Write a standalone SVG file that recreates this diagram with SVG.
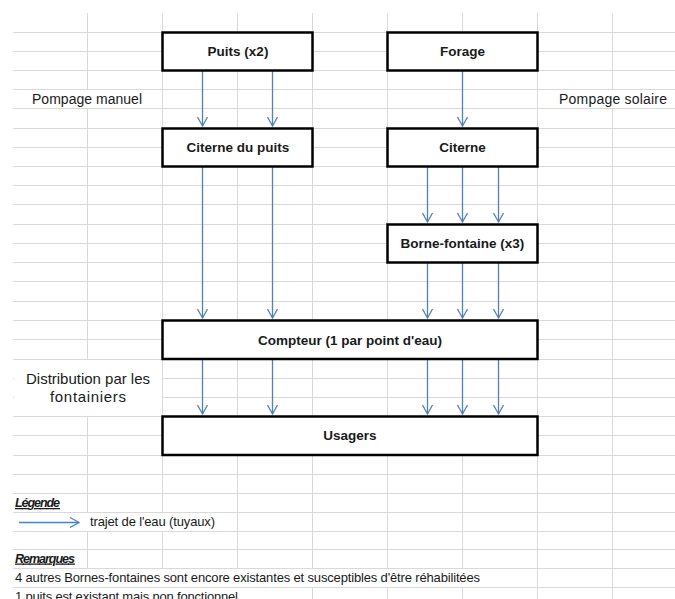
<svg xmlns="http://www.w3.org/2000/svg" width="675" height="599" viewBox="0 0 675 599">
<defs>
<style>
.grid line{stroke:#d9d9d9;stroke-width:1}
.cover{fill:#ffffff}
.box rect{fill:#ffffff;stroke:#000000;stroke-width:2.5}
.bt{font-family:"Liberation Sans",Arial,sans-serif;font-weight:bold;font-size:13.5px;fill:#1a1a1a;text-anchor:middle}
.t{font-family:"Liberation Sans",Arial,sans-serif;font-size:13px;fill:#1a1a1a}
.tl{font-family:"Liberation Sans",Arial,sans-serif;font-size:14px;fill:#1a1a1a;text-anchor:middle}
.tf{font-family:"Liberation Sans",Arial,sans-serif;font-size:15px;fill:#1a1a1a;text-anchor:middle}
.h{font-family:"Liberation Sans",Arial,sans-serif;font-size:12.5px;font-weight:bold;font-style:italic;text-decoration:underline;fill:#1a1a1a}
.conn line{stroke:#4f81bd;stroke-width:1.3;marker-end:url(#ah)}
</style>
<marker id="ah" markerUnits="userSpaceOnUse" markerWidth="12" markerHeight="12" refX="0" refY="0" orient="auto" overflow="visible">
<path d="M-9,-5 L0,0 L-9,5" fill="none" stroke="#4f81bd" stroke-width="1.3"/>
</marker>
</defs>
<rect width="675" height="599" fill="#ffffff"/>
<g class="grid">
<line x1="13" y1="32.5" x2="675" y2="32.5"/>
<line x1="13" y1="51.5" x2="675" y2="51.5"/>
<line x1="13" y1="70.5" x2="675" y2="70.5"/>
<line x1="13" y1="89.5" x2="675" y2="89.5"/>
<line x1="13" y1="108.5" x2="675" y2="108.5"/>
<line x1="13" y1="128.5" x2="675" y2="128.5"/>
<line x1="13" y1="147.5" x2="675" y2="147.5"/>
<line x1="13" y1="166.5" x2="675" y2="166.5"/>
<line x1="13" y1="185.5" x2="675" y2="185.5"/>
<line x1="13" y1="204.5" x2="675" y2="204.5"/>
<line x1="13" y1="224.5" x2="675" y2="224.5"/>
<line x1="13" y1="243.5" x2="675" y2="243.5"/>
<line x1="13" y1="262.5" x2="675" y2="262.5"/>
<line x1="13" y1="281.5" x2="675" y2="281.5"/>
<line x1="13" y1="301.5" x2="675" y2="301.5"/>
<line x1="13" y1="320.5" x2="675" y2="320.5"/>
<line x1="13" y1="339.5" x2="675" y2="339.5"/>
<line x1="13" y1="359.5" x2="675" y2="359.5"/>
<line x1="13" y1="378.5" x2="675" y2="378.5"/>
<line x1="13" y1="397.5" x2="675" y2="397.5"/>
<line x1="13" y1="416.5" x2="675" y2="416.5"/>
<line x1="13" y1="435.5" x2="675" y2="435.5"/>
<line x1="13" y1="455.5" x2="675" y2="455.5"/>
<line x1="13" y1="474.5" x2="675" y2="474.5"/>
<line x1="13" y1="493.5" x2="675" y2="493.5"/>
<line x1="13" y1="512.5" x2="675" y2="512.5"/>
<line x1="13" y1="531.5" x2="675" y2="531.5"/>
<line x1="13" y1="549.5" x2="675" y2="549.5"/>
<line x1="13" y1="568.5" x2="675" y2="568.5"/>
<line x1="13" y1="587.5" x2="675" y2="587.5"/>
<line x1="87.5" y1="13" x2="87.5" y2="599"/>
<line x1="162.5" y1="13" x2="162.5" y2="599"/>
<line x1="237.5" y1="13" x2="237.5" y2="599"/>
<line x1="312.5" y1="13" x2="312.5" y2="599"/>
<line x1="387.5" y1="13" x2="387.5" y2="599"/>
<line x1="462.5" y1="13" x2="462.5" y2="599"/>
<line x1="537.5" y1="13" x2="537.5" y2="599"/>
<line x1="612.5" y1="13" x2="612.5" y2="599"/>
</g>
<g id="covers">
<rect class="cover" x="14" y="90" width="148" height="18"/>
<rect class="cover" x="539" y="90" width="136" height="18"/>
<rect class="cover" x="14" y="360" width="148" height="56"/>
<rect class="cover" x="14" y="513" width="223" height="18"/>
<rect class="cover" x="14" y="569" width="523" height="18"/>
<rect class="cover" x="14" y="588" width="298" height="11"/>
</g>
<g id="conn" class="conn">
<line x1="202.5" y1="71" x2="202.5" y2="126"/>
<line x1="272.5" y1="71" x2="272.5" y2="126"/>
<line x1="462.5" y1="71" x2="462.5" y2="126"/>
<line x1="202.5" y1="167" x2="202.5" y2="318"/>
<line x1="272.5" y1="167" x2="272.5" y2="318"/>
<line x1="427.5" y1="167" x2="427.5" y2="222"/>
<line x1="462.5" y1="167" x2="462.5" y2="222"/>
<line x1="498.5" y1="167" x2="498.5" y2="222"/>
<line x1="427.5" y1="263" x2="427.5" y2="318"/>
<line x1="462.5" y1="263" x2="462.5" y2="318"/>
<line x1="498.5" y1="263" x2="498.5" y2="318"/>
<line x1="202.5" y1="360" x2="202.5" y2="414"/>
<line x1="272.5" y1="360" x2="272.5" y2="414"/>
<line x1="427.5" y1="360" x2="427.5" y2="414"/>
<line x1="462.5" y1="360" x2="462.5" y2="414"/>
<line x1="498.5" y1="360" x2="498.5" y2="414"/>
<line x1="19" y1="522.5" x2="79" y2="522.5"/>
</g>
<g id="puits" class="box"><rect x="162.5" y="32.5" width="150" height="38"/><text class="bt" x="238" y="56">Puits (x2)</text></g>
<g id="forage" class="box"><rect x="387.5" y="32.5" width="150" height="38"/><text class="bt" x="462.5" y="56">Forage</text></g>
<g id="citerne-puits" class="box"><rect x="162.5" y="128.5" width="150" height="38"/><text class="bt" x="238" y="152">Citerne du puits</text></g>
<g id="citerne" class="box"><rect x="387.5" y="128.5" width="150" height="38"/><text class="bt" x="462.5" y="152">Citerne</text></g>
<g id="borne" class="box"><rect x="387.5" y="224.5" width="150" height="38"/><text class="bt" x="462.5" y="248">Borne-fontaine (x3)</text></g>
<g id="compteur" class="box"><rect x="162.5" y="320.5" width="375" height="38.5"/><text class="bt" x="350" y="345">Compteur (1 par point d'eau)</text></g>
<g id="usagers" class="box"><rect x="162.5" y="416.5" width="375" height="38.5"/><text class="bt" x="350" y="440">Usagers</text></g>
<g id="labels">
<text class="tl" x="87" y="104" textLength="110">Pompage manuel</text>
<text class="tl" x="613" y="104" textLength="108">Pompage solaire</text>
<text class="tf" x="88" y="384" textLength="124">Distribution par les</text>
<text class="tf" x="88" y="402" textLength="76">fontainiers</text>
<text class="h" x="15" y="507" textLength="45">Légende</text>
<text class="t" x="90" y="526" textLength="125">trajet de l'eau (tuyaux)</text>
<text class="h" x="15" y="562.5" textLength="60">Remarques</text>
<text class="t" x="15" y="582" textLength="465">4 autres Bornes-fontaines sont encore existantes et susceptibles d'être réhabilitées</text>
<text class="t" x="15" y="601" textLength="223">1 puits est existant mais non fonctionnel</text>
</g>
</svg>
